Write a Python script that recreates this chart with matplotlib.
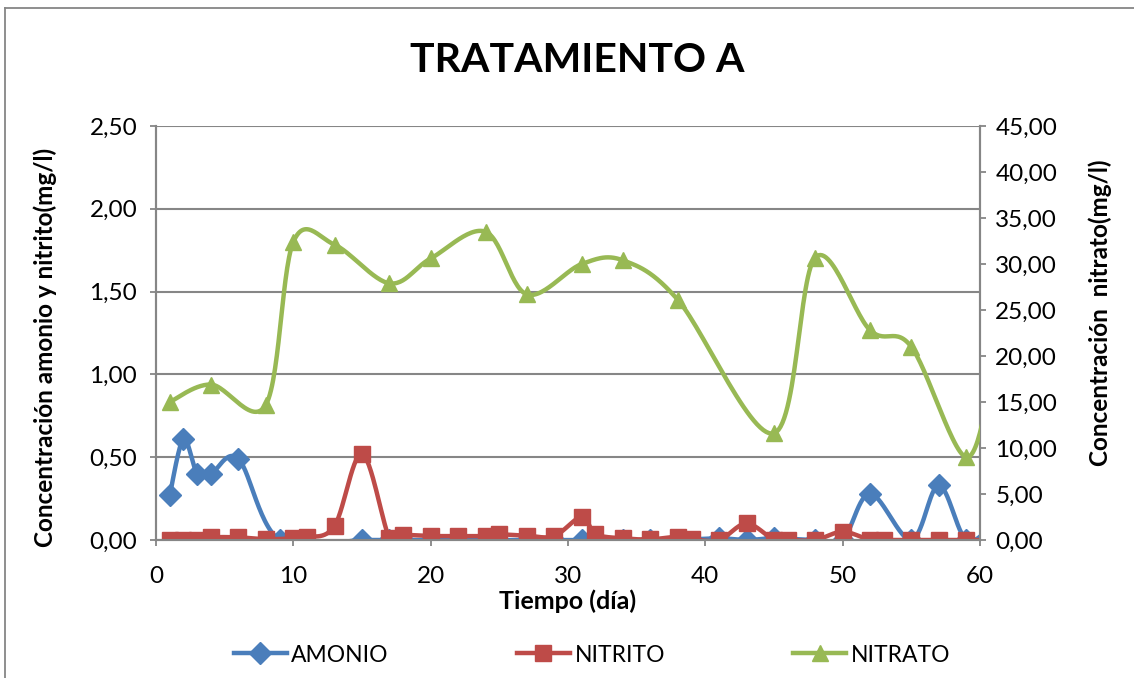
import numpy as np
import matplotlib
matplotlib.use("Agg")
import matplotlib.pyplot as plt
from matplotlib.lines import Line2D
from matplotlib.ticker import FuncFormatter, MultipleLocator

# ---- data ----
amonio_dias = [1, 2, 3, 4, 6, 9, 15, 17, 18, 20, 22, 24, 27, 29, 31, 32, 34, 36, 38,
               41, 43, 45, 48, 50, 52, 55, 57, 59, 61]
amonio = [0.27, 0.61, 0.40, 0.40, 0.49, 0.00, 0.00, 0.00, 0.00, 0.00, 0.00, 0.00, 0.00,
          0.00, 0.00, 0.00, 0.00, 0.00, 0.00, 0.01, 0.00, 0.01, 0.00, 0.00, 0.28, 0.00,
          0.33, 0.00, 0.10]

nitrito_dias = [1, 2, 3, 4, 6, 8, 10, 11, 13, 15, 17, 18, 20, 22, 24, 25, 27, 29, 31, 32,
                34, 36, 38, 39, 41, 43, 45, 46, 48, 50, 52, 53, 55, 57, 59, 61]
nitrito = [0.00, 0.00, 0.00, 0.016, 0.016, 0.005, 0.01, 0.016, 0.085, 0.52, 0.01, 0.03,
           0.024, 0.024, 0.024, 0.034, 0.026, 0.024, 0.14, 0.036, 0.01, 0.004, 0.02,
           0.006, 0.00, 0.10, 0.00, 0.00, 0.00, 0.05, 0.00, 0.00, 0.00, 0.00, 0.00, 0.00]

nitrato_dias = [1, 4, 8, 10, 13, 17, 20, 24, 27, 31, 34, 38, 45, 48, 52, 55, 59, 61]
nitrato = [15.0, 16.9, 14.7, 32.4, 32.1, 27.9, 30.6, 33.5, 26.7, 30.0, 30.4, 26.1,
           11.6, 30.7, 22.8, 21.0, 9.0, 19.0]

x_ticks = [0, 10, 20, 30, 40, 50, 60]

AZUL = "#4A7EBB"
ROJO = "#BE4B48"
VERDE = "#98B954"
GRIS = "#868686"
FUENTE = "Lato"

plt.rcParams["font.family"] = [FUENTE, "DejaVu Sans"]


def suavizar(xs, ys, pasos=30):
    """Smoothed line through the points (cubic Bezier, Catmull-Rom tangents)."""
    p = np.column_stack([xs, ys]).astype(float)
    n = len(p)
    out = [p[0]]
    t = np.linspace(0, 1, pasos)[1:, None]
    for i in range(n - 1):
        p0 = p[i - 1] if i > 0 else p[i]
        p1, p2 = p[i], p[i + 1]
        p3 = p[i + 2] if i + 2 < n else p[i + 1]
        c1 = p1 + (p2 - p0) / 6.0
        c2 = p2 - (p3 - p1) / 6.0
        seg = ((1 - t) ** 3) * p1 + 3 * ((1 - t) ** 2) * t * c1 \
            + 3 * (1 - t) * (t ** 2) * c2 + (t ** 3) * p2
        out.extend(seg)
    out = np.array(out)
    return out[:, 0], out[:, 1]


fig = plt.figure(figsize=(11.34, 6.78), dpi=100)
ax = fig.add_axes([156 / 1134, 1 - 540 / 678, 824 / 1134, 414 / 678])
ax2 = ax.twinx()

LW = 3.2
MS_D = 11.5
MS_S = 12.0
MS_T = 12.0

sx, sy = suavizar(amonio_dias, amonio)
ax.plot(sx, sy, color=AZUL, lw=LW, solid_capstyle="round", zorder=3)
ax.plot(amonio_dias, amonio, ls="none", marker="D", ms=MS_D, color=AZUL, zorder=3)

sx, sy = suavizar(nitrito_dias, nitrito)
ax.plot(sx, sy, color=ROJO, lw=LW, solid_capstyle="round", zorder=4)
ax.plot(nitrito_dias, nitrito, ls="none", marker="s", ms=MS_S, color=ROJO, zorder=4)

sx, sy = suavizar(nitrato_dias, nitrato)
ax2.plot(sx, sy, color=VERDE, lw=LW, solid_capstyle="round", zorder=3)
ax2.plot(nitrato_dias, nitrato, ls="none", marker="^", ms=MS_T, color=VERDE, zorder=3)

# axes, grid and ticks
ax.set_xlim(0, 60)
ax.set_ylim(0, 2.5)
ax2.set_ylim(0, 45)
ax.set_xticks(x_ticks)
ax.yaxis.set_major_locator(MultipleLocator(0.5))
ax2.yaxis.set_major_locator(MultipleLocator(5))
coma = FuncFormatter(lambda v, _: f"{v:.2f}".replace(".", ","))
ax.yaxis.set_major_formatter(coma)
ax2.yaxis.set_major_formatter(coma)
ax.grid(axis="y", color=GRIS, lw=1.5)
ax.set_axisbelow(True)

for a in (ax, ax2):
    for s in a.spines.values():
        s.set_color(GRIS)
        s.set_linewidth(1.5)
    a.spines["top"].set_visible(False)
    a.tick_params(colors=GRIS, width=1.3, length=4.5, direction="out",
                  labelcolor="black", labelsize=17.5)
ax.tick_params(axis="y", pad=9)
ax2.tick_params(axis="y", pad=6.5)
ax.tick_params(axis="x", pad=14)

ax.set_xlabel("Tiempo (día)", fontsize=18, fontweight="bold", labelpad=0)
ax.xaxis.set_label_coords(0.5, (540 - 601) / 414)
ax.xaxis.label.set_va("center")

ax.set_ylabel("Concentración amonio y nitrito(mg/l)", fontsize=17.5,
              fontweight="bold")
ax.yaxis.set_label_coords((45 - 156) / 824, (540 - 347) / 414)
ax.yaxis.label.set_va("center")

ax2.set_ylabel("Concentración  nitrato(mg/l)", fontsize=17.5, fontweight="bold")
ax2.yaxis.set_label_coords((1100 - 156) / 824, (540 - 313) / 414)
ax2.yaxis.label.set_va("center")

fig.text(577 / 1134, 1 - 60 / 678, "TRATAMIENTO A", ha="center", va="center",
         fontsize=29.5, fontweight="bold")

# legend
handles = [
    Line2D([], [], color=AZUL, lw=LW, marker="D", ms=MS_D),
    Line2D([], [], color=ROJO, lw=LW, marker="s", ms=MS_S),
    Line2D([], [], color=VERDE, lw=LW, marker="^", ms=MS_T),
]
fig.legend(handles, ["AMONIO", "NITRITO", "NITRATO"], loc="center",
           bbox_to_anchor=(592 / 1134, 1 - 655 / 678), ncol=3, frameon=False,
           fontsize=16.5, handlelength=2.3, handletextpad=0.2,
           columnspacing=5.6, numpoints=1)

# chart frame
fig.add_artist(Line2D([5 / 1134, 1.0], [1 - 8 / 678, 1 - 8 / 678],
                      transform=fig.transFigure, color=GRIS, lw=1.3))
fig.add_artist(Line2D([5 / 1134, 5 / 1134], [0.0, 1 - 8 / 678],
                      transform=fig.transFigure, color=GRIS, lw=1.3))

fig.savefig("out.png", dpi=100)
